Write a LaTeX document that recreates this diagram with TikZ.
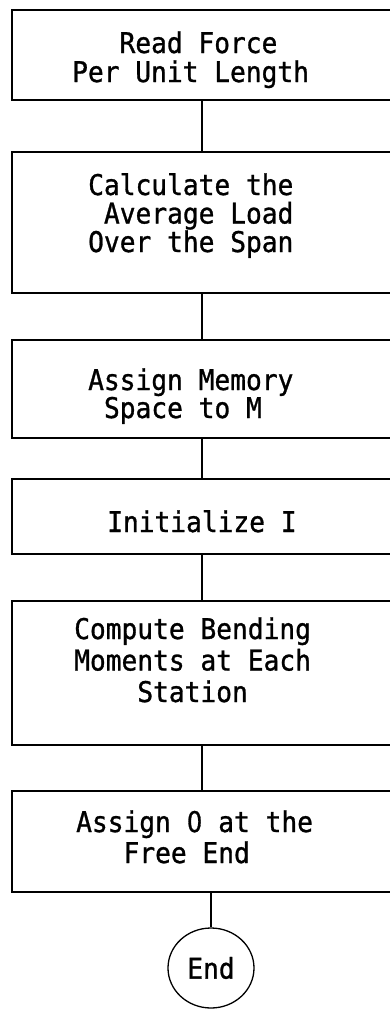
\documentclass[tikz,border=0pt]{standalone}
\usepackage{fontspec}
\setmonofont{DejaVu Sans Mono}[FakeStretch=0.92,FakeBold=1]
\newfontfamily\zerofont{DejaVu Sans}[FakeStretch=0.85,FakeBold=1]
\usetikzlibrary{shapes.geometric}
\newcommand\plainzero{\sbox0{0}\makebox[\wd0]{\zerofont 0}}
\tikzset{
  box/.style={draw, line width=1.3pt, minimum width=380pt, inner sep=0pt},
  txt/.style={font=\ttfamily\fontsize{28.5}{29}\selectfont, align=left, inner sep=0pt, anchor=base west},
  conn/.style={line width=1.3pt},
  endnode/.style={draw, ellipse, line width=1.3pt, minimum width=86pt, minimum height=80pt, inner sep=0pt, font=\ttfamily\fontsize{28.5}{29}\selectfont}
}
\begin{document}
\begin{tikzpicture}[x=1pt,y=-1pt]
\useasboundingbox (0,0) rectangle (390,1009);
\clip (0,0) rectangle (390,1009);
\node[box, minimum height=90pt] (b1) at (202,55) {};
\node[box, minimum height=141pt] (b2) at (202,222.5) {};
\node[box, minimum height=98pt] (b3) at (202,389) {};
\node[box, minimum height=75pt] (b4) at (202,516.5) {};
\node[box, minimum height=144pt] (b5) at (202,673) {};
\node[box, minimum height=101pt] (b6) at (202,841.5) {};
\node[endnode] (end) at (211,968) {End};

\node[txt] (t1) at (72,82) {\hphantom{000}Read Force\\Per Unit Length};
\node[txt] (t2) at (88,252) {Calculate the\\[-0.5pt]\hphantom{0}Average Load\\[-0.5pt]Over the Span};
\node[txt] (t3) at (88,418) {Assign Memory\\[-1pt]\hphantom{0}Space to M};
\node[txt] (t4) at (107,532) {Initialize I};
\node[txt] (t5) at (74,702) {Compute Bending\\[2.5pt]Moments at Each\\[2.5pt]\hphantom{0000}Station};
\node[txt] (t6) at (76,863) {Assign \plainzero{} at the\\[2pt]\hphantom{000}Free End};

\draw[conn] (b1.south) -- (b2.north);
\draw[conn] (b2.south) -- (b3.north);
\draw[conn] (b3.south) -- (b4.north);
\draw[conn] (b4.south) -- (b5.north);
\draw[conn] (b5.south) -- (b6.north);
\draw[conn] (end.north |- b6.south) -- (end.north);
\end{tikzpicture}
\end{document}
